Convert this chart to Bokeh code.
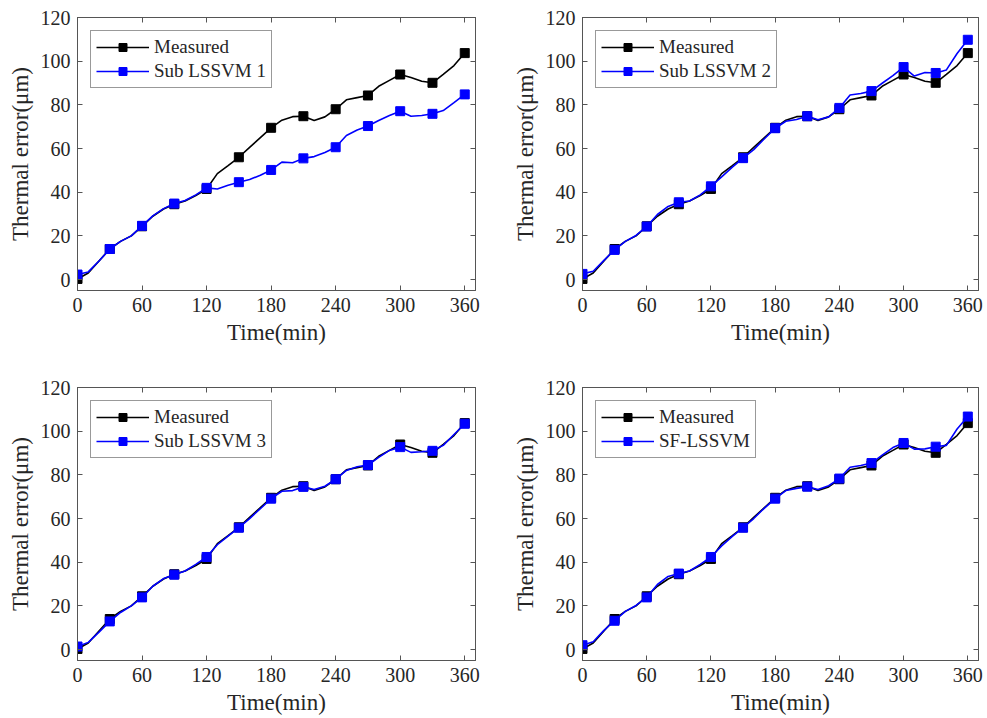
from bokeh.plotting import figure
from bokeh.layouts import column, row
from bokeh.models import LinearAxis, FixedTicker, Range1d
from bokeh.embed import file_html
from bokeh.resources import INLINE

# ---------------- data ----------------
time_min = list(range(0, 361, 10))

measured = [0.3, 3.0, 8.5, 14.0, 17.5, 20.0, 24.4, 29.0, 32.3, 34.5,
            36.0, 38.5, 41.5, 48.5, 52.2, 56.0, 60.5, 65.0, 69.5, 73.0,
            74.6, 74.8, 72.8, 74.5, 78.0, 82.3, 83.3, 84.3, 88.5, 91.2,
            93.9, 92.5, 90.8, 90.1, 94.0, 98.0, 103.7]

sub_lssvm_1 = [2.3, 3.5, 8.5, 14.0, 17.5, 20.0, 24.6, 29.2, 32.5, 34.8,
               36.2, 38.8, 42.0, 41.5, 43.2, 44.6, 45.8, 47.8, 50.2, 53.8,
               53.5, 55.5, 56.3, 58.2, 60.6, 66.0, 68.5, 70.3, 72.8, 75.1,
               77.1, 74.8, 75.1, 75.9, 77.4, 81.0, 84.8]

sub_lssvm_2 = [2.6, 3.8, 8.8, 13.6, 17.5, 20.2, 24.3, 29.8, 33.5, 35.4,
               36.0, 38.8, 42.7, 47.0, 51.5, 55.6, 59.5, 64.5, 69.3, 72.5,
               73.3, 74.8, 73.2, 74.5, 78.6, 84.5, 85.2, 86.3, 89.9, 93.4,
               97.3, 93.2, 94.8, 94.6, 96.0, 103.5, 109.8]

sub_lssvm_3 = [1.4, 3.3, 8.0, 12.9, 17.0, 20.0, 23.9, 29.0, 32.5, 34.3,
               36.0, 39.0, 42.4, 48.0, 52.0, 55.8, 60.0, 64.5, 69.1, 72.5,
               72.8, 74.5, 73.3, 74.8, 78.0, 82.0, 83.7, 84.5, 88.0, 91.2,
               92.7, 90.3, 90.6, 91.0, 93.5, 98.5, 103.4]

sf_lssvm = [2.0, 3.6, 8.8, 13.2, 17.5, 20.2, 23.9, 29.8, 33.5, 34.8,
            36.0, 39.0, 42.4, 47.5, 51.8, 55.8, 60.0, 64.8, 69.1, 72.8,
            73.8, 74.6, 73.3, 75.0, 78.3, 83.5, 84.3, 85.4, 89.0, 92.5,
            94.6, 91.8, 91.9, 92.9, 93.5, 101.0, 106.7]

model_labels = ["Sub LSSVM 1", "Sub LSSVM 2", "Sub LSSVM 3", "SF-LSSVM"]
x_tick_values = [0, 60, 120, 180, 240, 300, 360]
y_tick_values = [0, 20, 40, 60, 80, 100, 120]
x_title = "Time(min)"
y_title = "Thermal error(μm)"

FONT = "Liberation Serif"
TEXT_COLOR = "#262626"
BOX_COLOR = "#555555"
MARK_STEP = 3  # markers every 30 min


def style_axis(ax, ticks):
    ax.ticker = FixedTicker(ticks=ticks)
    ax.major_tick_in = 5
    ax.major_tick_out = 0
    ax.minor_tick_line_color = None
    ax.axis_line_color = BOX_COLOR
    ax.major_tick_line_color = BOX_COLOR
    ax.major_label_text_font = FONT
    ax.major_label_text_color = TEXT_COLOR
    ax.major_label_text_font_size = "20px"
    ax.major_label_standoff = 7


def mirror_axis(ticks):
    # tick marks only (boxed axes): ticks given as minor ticks -> no labels
    ax = LinearAxis(ticker=FixedTicker(ticks=[], minor_ticks=ticks))
    ax.axis_line_color = BOX_COLOR
    ax.major_tick_line_color = None
    ax.minor_tick_in = 5
    ax.minor_tick_out = 0
    ax.minor_tick_line_color = BOX_COLOR
    ax.major_label_standoff = 0
    return ax


def make_panel(pred, label, fw, bl, br, bt, bb):
    p = figure(frame_width=fw, frame_height=273,
               min_border_left=bl, min_border_right=br,
               min_border_top=bt, min_border_bottom=bb,
               x_range=Range1d(0, 370), y_range=Range1d(-5, 120),
               output_backend="svg", toolbar_location=None)
    p.grid.visible = False
    p.outline_line_color = BOX_COLOR
    p.outline_line_width = 1
    p.background_fill_color = "white"
    p.border_fill_color = "white"

    style_axis(p.xaxis[0], x_tick_values)
    style_axis(p.yaxis[0], y_tick_values)
    p.xaxis[0].axis_label = x_title
    p.yaxis[0].axis_label = y_title
    for ax in (p.xaxis[0], p.yaxis[0]):
        ax.axis_label_text_font = FONT
        ax.axis_label_text_font_style = "normal"
        ax.axis_label_text_font_size = "23px"
        ax.axis_label_text_color = TEXT_COLOR
        ax.axis_label_standoff = 5

    p.add_layout(mirror_axis(x_tick_values), "above")
    p.add_layout(mirror_axis(y_tick_values), "right")

    mt = time_min[::MARK_STEP]
    p.line(time_min, measured, line_color="black", line_width=1.6,
           legend_label="Measured")
    p.scatter(mt, measured[::MARK_STEP], marker="square", size=9,
              fill_color="black", line_color="black", legend_label="Measured")
    p.line(time_min, pred, line_color="#0000ff", line_width=1.6,
           legend_label=label)
    p.scatter(mt, pred[::MARK_STEP], marker="square", size=9,
              fill_color="#0000ff", line_color="#0000ff", legend_label=label)

    lg = p.legend[0]
    lg.location = "top_left"
    lg.margin = 13
    lg.padding = 5
    lg.spacing = 2
    lg.glyph_width = 53
    lg.glyph_height = 20
    lg.label_height = 20
    lg.label_standoff = 5
    lg.label_text_font = FONT
    lg.label_text_font_size = "19px"
    lg.label_text_color = TEXT_COLOR
    lg.border_line_color = "#333333"
    lg.border_line_width = 1
    lg.background_fill_alpha = 1
    return p


p1 = make_panel(sub_lssvm_1, model_labels[0], 398, 77, 18, 17, 69)
p2 = make_panel(sub_lssvm_2, model_labels[1], 396, 89, 9, 17, 69)
p3 = make_panel(sub_lssvm_3, model_labels[2], 398, 77, 18, 28, 58)
p4 = make_panel(sf_lssvm, model_labels[3], 396, 89, 9, 28, 58)

layout = column(row(p1, p2), row(p3, p4))

with open("out.html", "w") as f:
    f.write(file_html(layout, INLINE))
